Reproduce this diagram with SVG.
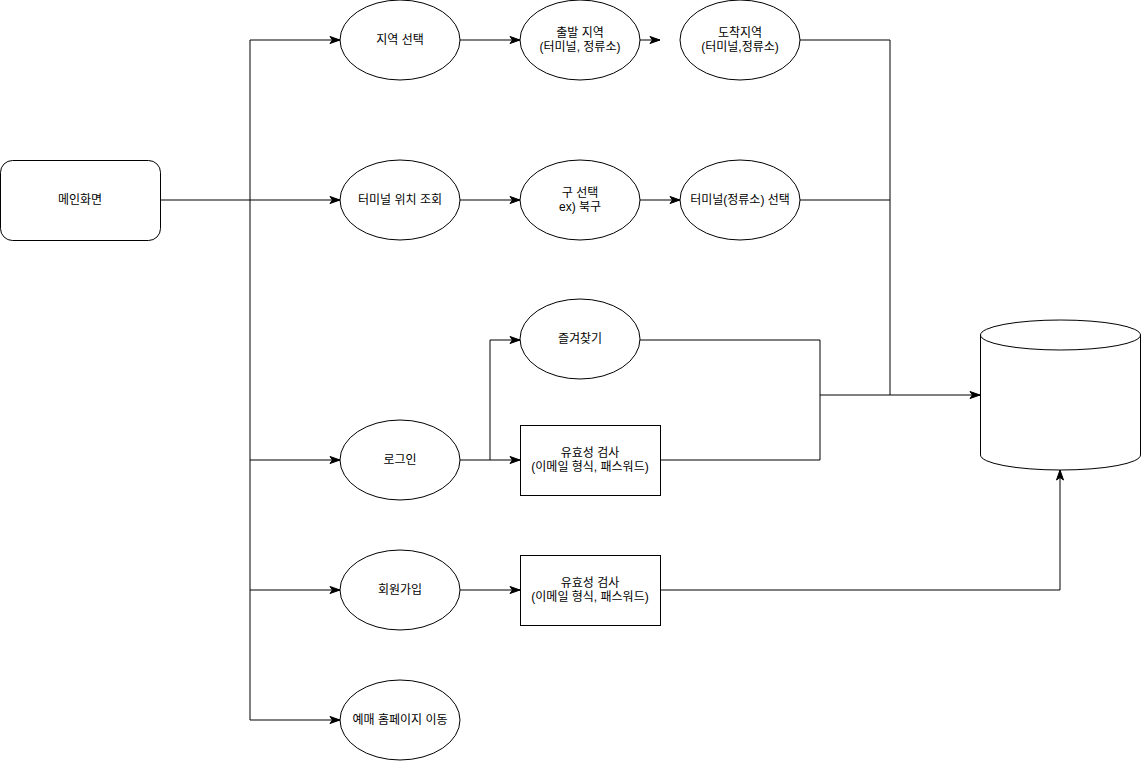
<svg xmlns="http://www.w3.org/2000/svg" width="1141" height="761" viewBox="0 0 1141 761">
  <style>
    .shape { fill: #ffffff; stroke: #000000; stroke-width: 1; }
    .edge { fill: none; stroke: #000000; stroke-width: 1; }
    .arrow { marker-end: url(#head); }
    text { font-family: "Liberation Sans", Arial, "Noto Sans CJK KR", sans-serif; font-size: 12px; fill: #000000; text-anchor: middle; dominant-baseline: central; }
  </style>
  <defs>
    <marker id="head" markerUnits="userSpaceOnUse" markerWidth="12" markerHeight="10" viewBox="0 0 12 10" refX="11" refY="5" orient="auto">
      <path d="M1,1.5 L11,5 L1,8.5 L3.5,5 Z" fill="#000000" stroke="#000000" stroke-width="1"/>
    </marker>
  </defs>
  <rect width="1141" height="761" fill="#ffffff"/>

  <!-- connectors -->
  <g id="connectors">
    <!-- main screen to the menu trunk -->
    <path class="edge" d="M160,200 H250"/>
    <path class="edge" d="M250,40 V720"/>
    <path class="edge arrow" d="M250,40 H340"/>
    <path class="edge arrow" d="M250,200 H340"/>
    <path class="edge arrow" d="M250,460 H340"/>
    <path class="edge arrow" d="M250,590 H340"/>
    <path class="edge arrow" d="M250,720 H340"/>
    <!-- region selection row -->
    <path class="edge arrow" d="M460,40 H520"/>
    <path class="edge arrow" d="M640,40 H660"/>
    <path class="edge" d="M800,40 H890 V395"/>
    <!-- terminal location row -->
    <path class="edge arrow" d="M460,200 H520"/>
    <path class="edge arrow" d="M640,200 H680"/>
    <path class="edge" d="M800,200 H890"/>
    <!-- login branch -->
    <path class="edge arrow" d="M460,460 H520"/>
    <path class="edge arrow" d="M490,460 V340 H520"/>
    <path class="edge" d="M640,340 H820 V460 H660"/>
    <path class="edge arrow" d="M820,395 H980"/>
    <!-- sign-up branch -->
    <path class="edge arrow" d="M460,590 H520"/>
    <path class="edge arrow" d="M660,590 H1060 V470"/>
  </g>

  <g id="main">
    <rect class="shape" x="0.5" y="160.5" width="160" height="80" rx="12" ry="12"/>
    <text x="80" y="200">메인화면</text>
  </g>

  <g id="region-select">
    <ellipse class="shape" cx="400" cy="40" rx="60" ry="40"/>
    <text x="400" y="40">지역 선택</text>
  </g>
  <g id="departure">
    <ellipse class="shape" cx="580" cy="40" rx="60" ry="40"/>
    <text x="580" y="33">출발 지역</text>
    <text x="580" y="47">(터미널, 정류소)</text>
  </g>
  <g id="arrival">
    <ellipse class="shape" cx="740" cy="40" rx="60" ry="40"/>
    <text x="740" y="33">도착지역</text>
    <text x="740" y="47">(터미널,정류소)</text>
  </g>

  <g id="terminal-lookup">
    <ellipse class="shape" cx="400" cy="200" rx="60" ry="40"/>
    <text x="400" y="200">터미널 위치 조회</text>
  </g>
  <g id="district">
    <ellipse class="shape" cx="580" cy="200" rx="60" ry="40"/>
    <text x="580" y="193">구 선택</text>
    <text x="580" y="207">ex) 북구</text>
  </g>
  <g id="terminal-select">
    <ellipse class="shape" cx="740" cy="200" rx="60" ry="40"/>
    <text x="740" y="200">터미널(정류소) 선택</text>
  </g>

  <g id="favorites">
    <ellipse class="shape" cx="580" cy="339" rx="60" ry="40"/>
    <text x="580" y="339">즐겨찾기</text>
  </g>
  <g id="login">
    <ellipse class="shape" cx="400" cy="460" rx="60" ry="40"/>
    <text x="400" y="460">로그인</text>
  </g>
  <g id="login-check">
    <rect class="shape" x="520.5" y="425.5" width="140" height="70"/>
    <text x="590" y="453">유효성 검사</text>
    <text x="590" y="467">(이메일 형식, 패스워드)</text>
  </g>

  <g id="signup">
    <ellipse class="shape" cx="400" cy="590" rx="60" ry="40"/>
    <text x="400" y="590">회원가입</text>
  </g>
  <g id="signup-check">
    <rect class="shape" x="520.5" y="555.5" width="140" height="70"/>
    <text x="590" y="583">유효성 검사</text>
    <text x="590" y="597">(이메일 형식, 패스워드)</text>
  </g>

  <g id="booking">
    <ellipse class="shape" cx="400" cy="720" rx="60" ry="40"/>
    <text x="400" y="720">예매 홈페이지 이동</text>
  </g>

  <g id="database">
    <path class="shape" d="M980.5,335 A80,15 0 0 1 1140.5,335 V455 A80,15 0 0 1 980.5,455 Z"/>
    <path class="edge" d="M980.5,335 A80,15 0 0 0 1140.5,335"/>
  </g>
</svg>
